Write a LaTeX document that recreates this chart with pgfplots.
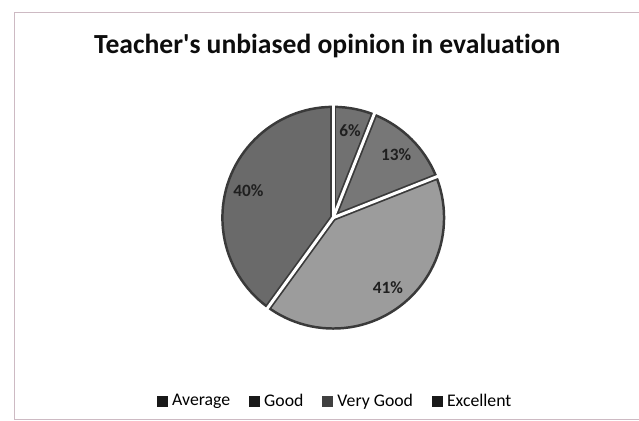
\documentclass[border=0pt]{standalone}
\usepackage{fontspec}
\setmainfont[Ligatures={NoCommon}]{Carlito}
\usepackage{pgfplots}
\pgfplotsset{compat=1.18}
\usepackage{pgfplotstable}

\definecolor{slice0}{HTML}{717171}
\definecolor{slice1}{HTML}{777777}
\definecolor{slice2}{HTML}{9C9C9C}
\definecolor{slice3}{HTML}{6A6A6A}
\definecolor{edgedark}{HTML}{3A3A3A}
\definecolor{frame}{HTML}{CDBAC3}

\pgfplotstableread[col sep=comma]{
name,value
Average,6
Good,13
Very Good,41
Excellent,40
}\piedata

\begin{document}
\def\cum{90}
\pgfplotsforeachungrouped \i in {0,1,2,3}{%
  \pgfplotstablegetelem{\i}{value}\of\piedata
  \edef\thisval{\pgfplotsretval}%
  \pgfmathsetmacro\endang{\cum-3.6*\thisval}%
  \pgfmathsetmacro\midang{(\cum+\endang)/2}%
  \expandafter\edef\csname sa\i\endcsname{\cum}%
  \expandafter\edef\csname ea\i\endcsname{\endang}%
  \expandafter\edef\csname ma\i\endcsname{\midang}%
  \expandafter\edef\csname val\i\endcsname{\thisval}%
  \let\cum\endang
}
\def\cx{330}\def\cy{205}\def\R{112bp}
\begin{tikzpicture}
\begin{axis}[
  at={(0,0)}, anchor=south west,
  x=1bp, y=1bp, scale only axis,
  xmin=0, xmax=639, ymin=0, ymax=425,
  hide axis, clip=false,
  legend style={at={(axis cs:332,20)}, anchor=center, draw=none, fill=none,
    legend columns=4, font=\fontsize{18}{18}\selectfont,
    /tikz/every odd column/.append style={column sep=3bp},
    /tikz/every even column/.append style={column sep=17bp},
    inner sep=0pt},
]
% frame
\draw[frame, line width=1bp] (axis cs:639,412) -- (axis cs:8,412) -- (axis cs:8,1) -- (axis cs:639,1);
% slices
\pgfplotsinvokeforeach{0,1,2,3}{
  \fill[slice#1] (axis cs:\cx,\cy) -- ++(\csname sa#1\endcsname:\R)
     arc[start angle=\csname sa#1\endcsname, end angle=\csname ea#1\endcsname, radius=\R] -- cycle;
}
\draw[edgedark, line width=2.5bp] (axis cs:\cx,\cy) circle[radius=\R];
\pgfplotsinvokeforeach{0,1,2,3}{
  \draw[edgedark, line width=6.5bp] (axis cs:\cx,\cy) -- ++(\csname sa#1\endcsname:\R);
}
\pgfplotsinvokeforeach{0,1,2,3}{
  \draw[white, line width=3bp] (axis cs:\cx,\cy) -- ++(\csname sa#1\endcsname:116bp);
}
\fill[white] (axis cs:\cx,\cy) circle[radius=1.6bp];
% labels
\pgfplotsinvokeforeach{0,1,2,3}{
  \path (axis cs:\cx,\cy) ++(\csname ma#1\endcsname:90bp) node[text=black!88,
     font=\bfseries\fontsize{17.5}{17.5}\selectfont] {\csname val#1\endcsname\%};
}
% title
\node[font=\bfseries\fontsize{28}{28}\selectfont, text=black!95] at (axis cs:324,379)
  {Teacher\textquotesingle s unbiased opinion in evaluation};
% legend
\addlegendimage{legend image code/.code={\fill[black!90] (0bp,-5bp) rectangle (10bp,5bp);}}
\addlegendentry{Average}
\addlegendimage{legend image code/.code={\fill[black!90] (0bp,-5bp) rectangle (10bp,5bp);}}
\addlegendentry{Good}
\addlegendimage{legend image code/.code={\fill[black!75] (0bp,-5bp) rectangle (10bp,5bp);}}
\addlegendentry{Very Good}
\addlegendimage{legend image code/.code={\fill[black!90] (0bp,-5bp) rectangle (10bp,5bp);}}
\addlegendentry{Excellent}
\end{axis}
\pgfresetboundingbox
\useasboundingbox (0,0) rectangle (639bp,425bp);
\end{tikzpicture}
\end{document}
